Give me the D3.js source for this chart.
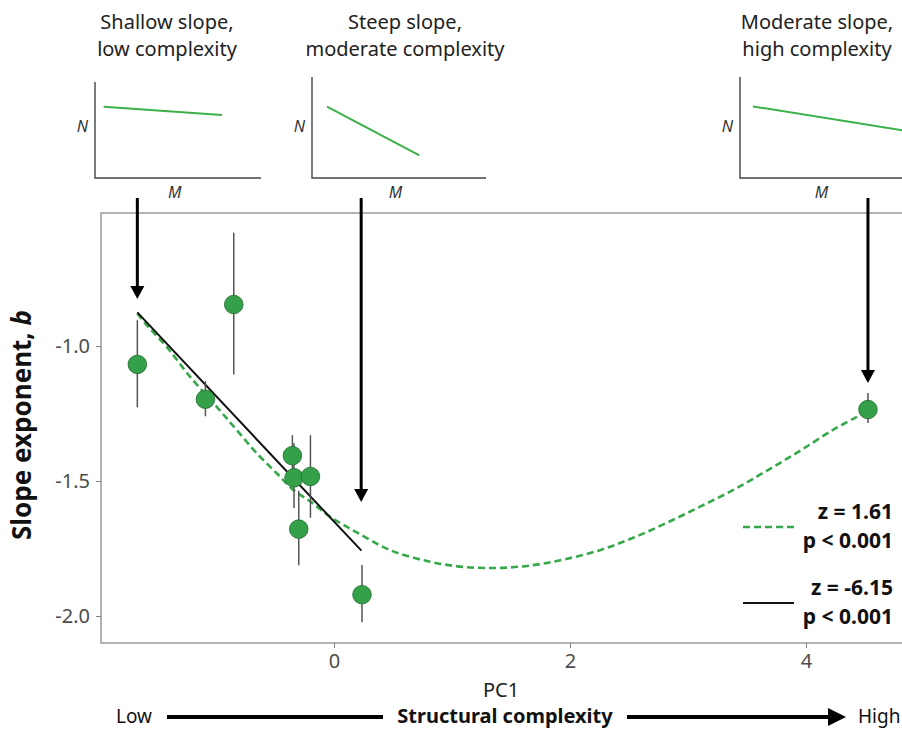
<!DOCTYPE html>
<html>
<head>
<meta charset="utf-8">
<script src="https://cdn.jsdelivr.net/npm/d3@7"></script>
<style>
  body { margin: 0; background: #fff; }
  text { font-family: 'Noto Sans', sans-serif; }
</style>
</head>
<body>
<svg id="svg"></svg>
<script>
// data
const pc1    = [-1.667, -1.09, -0.85, -0.353, -0.339, -0.20, -0.299, 0.237, 4.525];
const slopeB = [-1.068, -1.197, -0.846, -1.406, -1.488, -1.483, -1.678, -1.921, -1.235];
const ciLow  = [-1.227, -1.26, -1.105, -1.48, -1.60, -1.636, -1.812, -2.023, -1.285];
const ciHigh = [-0.904, -1.13, -0.58, -1.33, -1.36, -1.33, -1.536, -1.811, -1.174];

// quadratic fit (dashed)
const curveX = [-1.667, -1.574, -1.418, -1.220, -0.994, -0.825, -0.655, -0.486, -0.345, -0.203, -0.034,
  0.192, 0.475, 0.814, 1.096, 1.379, 1.661, 1.943, 2.254, 2.536, 2.819, 3.102, 3.384, 3.667, 3.949, 4.231, 4.430, 4.525];
const curveY = [-0.879, -0.929, -1.003, -1.114, -1.225, -1.311, -1.397, -1.471, -1.533, -1.575, -1.632,
  -1.690, -1.756, -1.799, -1.818, -1.822, -1.813, -1.791, -1.756, -1.710, -1.655, -1.595, -1.533, -1.462, -1.388, -1.310, -1.262, -1.237];

// linear fit (solid)
const lineX = [-1.667, 0.232];
const lineY = [-0.875, -1.758];

const xTicks = [0, 2, 4];
const yTicks = [-2.0, -1.5, -1.0];

// annotation arrows
const arrowX = [-1.667, 0.23, 4.525];
const arrowTipB = [-0.826, -1.578, -1.137];

// example insets: title lines, and N at start / end of the M axis (0..1)
const insetTitles = [["Shallow slope,", "low complexity"], ["Steep slope,", "moderate complexity"], ["Moderate slope,", "high complexity"]];
const insetM = [[0.052, 0.765], [0.086, 0.617], [0.076, 1.0]];
const insetN = [[0.713, 0.63], [0.713, 0.226], [0.716, 0.464]];

const legendZ = ["z = 1.61", "z = -6.15"];
const legendP = ["p < 0.001", "p < 0.001"];

const width = 902, height = 729;
const panel = { left: 101, top: 213, right: 903, bottom: 643 };
const green = '#37a84a';

const svg = d3.select('#svg').attr('width', width).attr('height', height);

const xScale = d3.scaleLinear().domain([-1.975, 4.822]).range([panel.left, panel.right]);
const yScale = d3.scaleLinear().domain([-2.1, -0.507]).range([panel.bottom, panel.top]);

// PANEL BORDER
svg.append('rect')
  .attr('x', panel.left).attr('y', panel.top)
  .attr('width', panel.right - panel.left).attr('height', panel.bottom - panel.top)
  .attr('fill', 'none').attr('stroke', '#808080').attr('stroke-width', 1.2);

// AXES
const xAxis = svg.append('g')
  .attr('transform', `translate(0, ${panel.bottom})`)
  .call(d3.axisBottom(xScale).tickValues(xTicks).tickFormat(d3.format('d')).tickSize(5).tickPadding(6));
const yAxis = svg.append('g')
  .attr('transform', `translate(${panel.left}, 0)`)
  .call(d3.axisLeft(yScale).tickValues(yTicks).tickFormat(d => d.toFixed(1)).tickSize(5).tickPadding(6));
[xAxis, yAxis].forEach(g => {
  g.select('.domain').remove();
  g.selectAll('line').attr('stroke', '#808080');
  g.selectAll('text').attr('fill', '#4d4d4d').attr('font-size', '20px')
    .attr('font-family', "'Noto Sans', sans-serif");
});

// AXIS LABELS
svg.append('text')
  .attr('text-anchor', 'middle')
  .attr('transform', `translate(31, ${(panel.top + panel.bottom) / 2 - 3}) rotate(-90)`)
  .attr('font-size', '26px').attr('font-weight', 'bold').attr('fill', '#111')
  .text('Slope exponent, ')
  .append('tspan').attr('font-style', 'italic').text('b');

svg.append('text')
  .attr('x', 501).attr('y', 697)
  .attr('text-anchor', 'middle').attr('font-size', '20px').attr('fill', '#222')
  .text('PC1');

// complexity arrow under the axis
const bottomY = 717;
svg.append('text').attr('x', 152).attr('y', 723).attr('text-anchor', 'end')
  .attr('font-size', '19px').attr('fill', '#111').text('Low');
svg.append('text').attr('x', 858).attr('y', 723)
  .attr('font-size', '19px').attr('fill', '#111').text('High');
svg.append('text').attr('x', 505).attr('y', 723).attr('text-anchor', 'middle')
  .attr('font-size', '20px').attr('font-weight', 'bold').attr('fill', '#111').text('Structural complexity');
svg.append('line').attr('x1', 167).attr('x2', 383).attr('y1', bottomY).attr('y2', bottomY)
  .attr('stroke', '#000').attr('stroke-width', 4);
svg.append('line').attr('x1', 627).attr('x2', 830).attr('y1', bottomY).attr('y2', bottomY)
  .attr('stroke', '#000').attr('stroke-width', 4);
svg.append('path')
  .attr('d', `M828,${bottomY - 9} L846,${bottomY} L828,${bottomY + 9} Z`)
  .attr('fill', '#000');

// FITTED LINES
const curve = curveX.map((x, i) => [x, curveY[i]]);
const lin = lineX.map((x, i) => [x, lineY[i]]);
const lineGen = d3.line().x(d => xScale(d[0])).y(d => yScale(d[1])).curve(d3.curveCatmullRom);

svg.append('path').datum(curve)
  .attr('d', lineGen).attr('fill', 'none')
  .attr('stroke', green).attr('stroke-width', 2.6).attr('stroke-dasharray', '7,4');

svg.append('path').datum(lin)
  .attr('d', lineGen).attr('fill', 'none')
  .attr('stroke', '#111').attr('stroke-width', 2);

// ERROR BARS + POINTS
const pts = pc1.map((x, i) => ({ x, b: slopeB[i], lo: ciLow[i], hi: ciHigh[i] }));

svg.append('g').selectAll('line')
  .data(pts).enter().append('line')
  .attr('x1', d => xScale(d.x)).attr('x2', d => xScale(d.x))
  .attr('y1', d => yScale(d.lo)).attr('y2', d => yScale(d.hi))
  .attr('stroke', '#555').attr('stroke-width', 1.5);

svg.append('g').selectAll('circle')
  .data(pts).enter().append('circle')
  .attr('cx', d => xScale(d.x)).attr('cy', d => yScale(d.b))
  .attr('r', 9.3)
  .attr('fill', '#34a04a').attr('stroke', '#1f6b2d').attr('stroke-width', 0.8);

// LEGEND
const legY = [527, 603];
const legendG = svg.append('g');
legendG.selectAll('.leg-line')
  .data(legY).enter().append('line')
  .attr('x1', 743).attr('x2', 794)
  .attr('y1', d => d).attr('y2', d => d)
  .attr('stroke', (d, i) => i === 0 ? green : '#111')
  .attr('stroke-width', (d, i) => i === 0 ? 2.6 : 2)
  .attr('stroke-dasharray', (d, i) => i === 0 ? '7,4' : null);
legendG.selectAll('.leg-z')
  .data(legendZ).enter().append('text')
  .attr('x', 893).attr('y', (d, i) => legY[i] - 8)
  .attr('text-anchor', 'end').attr('font-size', '21px').attr('font-weight', 'bold').attr('fill', '#111')
  .text(d => d);
legendG.selectAll('.leg-p')
  .data(legendP).enter().append('text')
  .attr('x', 893).attr('y', (d, i) => legY[i] + 21)
  .attr('text-anchor', 'end').attr('font-size', '21px').attr('font-weight', 'bold').attr('fill', '#111')
  .text(d => d);

// ANNOTATION ARROWS
const arrowTop = 198;
arrowX.forEach((x, i) => {
  const px = xScale(x), tip = yScale(arrowTipB[i]);
  svg.append('line').attr('x1', px).attr('x2', px).attr('y1', arrowTop).attr('y2', tip - 10)
    .attr('stroke', '#000').attr('stroke-width', 3);
  svg.append('path')
    .attr('d', `M${px - 7},${tip - 13} L${px + 7},${tip - 13} L${px},${tip} Z`)
    .attr('fill', '#000');
});

// INSETS
const insetBox = [
  { x0: 95, y0: 178, w: 166, top: 82, cx: 167 },
  { x0: 312, y0: 178, w: 174, top: 77, cx: 405 },
  { x0: 740, y0: 178, w: 170, top: 77, cx: 817 }
];
insetBox.forEach((b, i) => {
  const g = svg.append('g');
  const mx = d3.scaleLinear().domain([0, 1]).range([b.x0, b.x0 + b.w]);
  const ny = d3.scaleLinear().domain([0, 1]).range([b.y0, b.y0 - 100]);
  g.append('path')
    .attr('d', `M${b.x0},${b.top} L${b.x0},${b.y0} L${b.x0 + b.w},${b.y0}`)
    .attr('fill', 'none').attr('stroke', '#444').attr('stroke-width', 1.4);
  g.append('line')
    .attr('x1', mx(insetM[i][0])).attr('y1', ny(insetN[i][0]))
    .attr('x2', mx(insetM[i][1])).attr('y2', ny(insetN[i][1]))
    .attr('stroke', '#3cb04a').attr('stroke-width', 2);
  g.append('text').attr('x', b.x0 - 7).attr('y', 132).attr('text-anchor', 'end')
    .attr('font-size', '16px').attr('font-style', 'italic').attr('fill', '#333').text('N');
  g.append('text').attr('x', b.x0 + b.w * 0.48).attr('y', 198).attr('text-anchor', 'middle')
    .attr('font-size', '16px').attr('font-style', 'italic').attr('fill', '#333').text('M');
  g.selectAll('.title')
    .data(insetTitles[i]).enter().append('text')
    .attr('x', b.cx).attr('y', (d, j) => 29 + j * 27)
    .attr('text-anchor', 'middle').attr('font-size', '20px').attr('fill', '#222')
    .text(d => d);
});
</script>
</body>
</html>
